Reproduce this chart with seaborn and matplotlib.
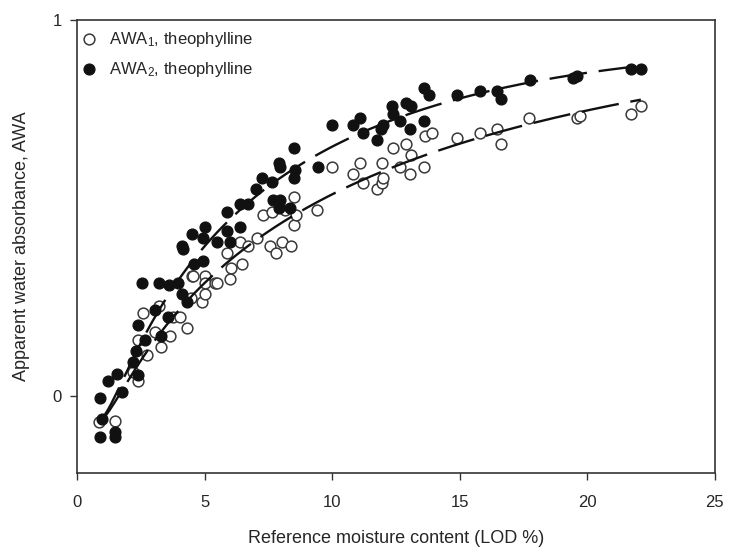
import numpy as np
import pandas as pd
import seaborn as sns
import matplotlib.pyplot as plt

# AWA1 (open circles)
lod_awa1 = [0.85, 1.5, 2.2, 2.4, 2.4, 2.6, 2.75, 3.05, 3.2, 3.3, 3.65, 3.75, 4.05, 4.3,
            4.45, 4.5, 4.55, 4.9, 5.0, 5.0, 5.0, 5.4, 5.5, 5.9, 6.0, 6.05, 6.4, 6.45,
            6.7, 7.05, 7.3, 7.55, 7.65, 7.8, 8.05, 8.15, 8.4, 8.5, 8.5, 8.6, 9.4,
            10.0, 10.8, 11.1, 11.2, 11.75, 11.95, 11.95, 12.0, 12.4, 12.65, 12.9,
            13.05, 13.1, 13.6, 13.65, 13.9, 14.9, 15.8, 16.45, 16.6, 17.7, 19.6,
            19.7, 21.7, 22.1]
awa1 = [-0.07, -0.065, 0.065, 0.04, 0.15, 0.22, 0.11, 0.17, 0.24, 0.13, 0.16, 0.21, 0.21, 0.18,
        0.26, 0.32, 0.32, 0.25, 0.27, 0.32, 0.30, 0.30, 0.30, 0.38, 0.31, 0.34, 0.41, 0.35,
        0.40, 0.42, 0.48, 0.40, 0.49, 0.38, 0.41, 0.495, 0.40, 0.53, 0.455, 0.48, 0.495,
        0.61, 0.59, 0.62, 0.565, 0.55, 0.565, 0.62, 0.58, 0.66, 0.61, 0.67,
        0.59, 0.64, 0.61, 0.69, 0.70, 0.685, 0.70, 0.71, 0.67, 0.74, 0.74,
        0.745, 0.75, 0.77]

# AWA2 (filled circles)
lod_awa2 = [0.9, 0.9, 1.0, 1.2, 1.5, 1.5, 1.55, 1.75, 2.2, 2.3, 2.4, 2.4, 2.55, 2.65, 3.05,
            3.2, 3.3, 3.55, 3.6, 3.95, 4.1, 4.1, 4.15, 4.3, 4.5, 4.6, 4.95, 4.95, 5.0,
            5.5, 5.9, 5.9, 6.0, 6.4, 6.4, 6.7, 7.0, 7.25, 7.65, 7.7, 7.9, 7.9, 7.95,
            7.95, 8.35, 8.5, 8.5, 8.55, 9.45, 10.0, 10.8, 11.1, 11.2, 11.75, 11.9,
            12.0, 12.35, 12.4, 12.65, 12.9, 13.05, 13.1, 13.6, 13.6, 13.8, 14.9,
            15.8, 16.45, 16.6, 17.75, 19.45, 19.6, 21.7, 22.1]
awa2 = [-0.11, -0.005, -0.06, 0.04, -0.11, -0.095, 0.06, 0.01, 0.09, 0.12, 0.055, 0.19, 0.30, 0.15, 0.23,
        0.30, 0.16, 0.21, 0.295, 0.30, 0.27, 0.40, 0.39, 0.25, 0.43, 0.35, 0.36, 0.42, 0.45,
        0.41, 0.49, 0.44, 0.41, 0.45, 0.51, 0.51, 0.55, 0.58, 0.57, 0.52, 0.62, 0.50, 0.61,
        0.52, 0.50, 0.66, 0.58, 0.60, 0.61, 0.72, 0.72, 0.74, 0.70, 0.68, 0.71,
        0.72, 0.77, 0.75, 0.73, 0.78, 0.71, 0.77, 0.82, 0.73, 0.80, 0.80,
        0.81, 0.81, 0.79, 0.84, 0.845, 0.85, 0.87, 0.87]

x_ticks = [0, 5, 10, 15, 20, 25]
y_ticks = [0, 1]

sns.set_theme(style='ticks')
plt.rcParams['font.family'] = ['Liberation Sans', 'DejaVu Sans']
plt.rcParams['mathtext.default'] = 'regular'

fig, ax = plt.subplots(figsize=(7.4, 5.49), dpi=100)
fig.subplots_adjust(left=0.104, right=0.966, top=0.964, bottom=0.138)

sns.scatterplot(x=lod_awa1, y=awa1, ax=ax, s=60, marker='o', facecolor='white',
                edgecolor='#3a3a3a', linewidth=1.1, label='AWA$_1$, theophylline', zorder=2)
sns.scatterplot(x=lod_awa2, y=awa2, ax=ax, s=60, marker='o', color='#111111',
                edgecolor='#111111', linewidth=1.0, label='AWA$_2$, theophylline', zorder=2)

# smooth fitted curves (cubic in ln x), drawn as long dashes
for xs, ys in [(lod_awa1, awa1), (lod_awa2, awa2)]:
    xs = np.array(xs)
    coef = np.polyfit(np.log(xs), np.array(ys), 3)
    grid = np.linspace(xs.min(), xs.max(), 200)
    fit = pd.DataFrame({'x': grid, 'y': np.polyval(coef, np.log(grid))})
    sns.lineplot(data=fit, x='x', y='y', ax=ax, color='#111111', lw=1.7, zorder=3)
    ax.lines[-1].set_dashes((16, 5))

ax.set_xlim(0, 25)
ax.set_ylim(-0.205, 1.0)
ax.set_xticks(x_ticks)
ax.set_yticks(y_ticks)
ax.set_xticklabels([str(t) for t in x_ticks])
ax.set_yticklabels([str(t) for t in y_ticks])
ax.tick_params(direction='out', length=5, width=1, labelsize=12, color='#333333')
ax.tick_params(axis='x', pad=11)
ax.tick_params(axis='y', pad=6)
for sp in ax.spines.values():
    sp.set_visible(True)
    sp.set_linewidth(1.2)
    sp.set_color('#333333')

ax.set_xlabel('Reference moisture content (LOD %)', fontsize=13, labelpad=14)
ax.set_ylabel('Apparent water absorbance, AWA', fontsize=13, labelpad=16)

ax.legend(loc='upper left', frameon=False, fontsize=12, labelspacing=0.65,
          handletextpad=0.7, borderaxespad=0.2, handlelength=1.0,
          bbox_to_anchor=(-0.01, 1.0))

plt.savefig('out.png', dpi=100)
